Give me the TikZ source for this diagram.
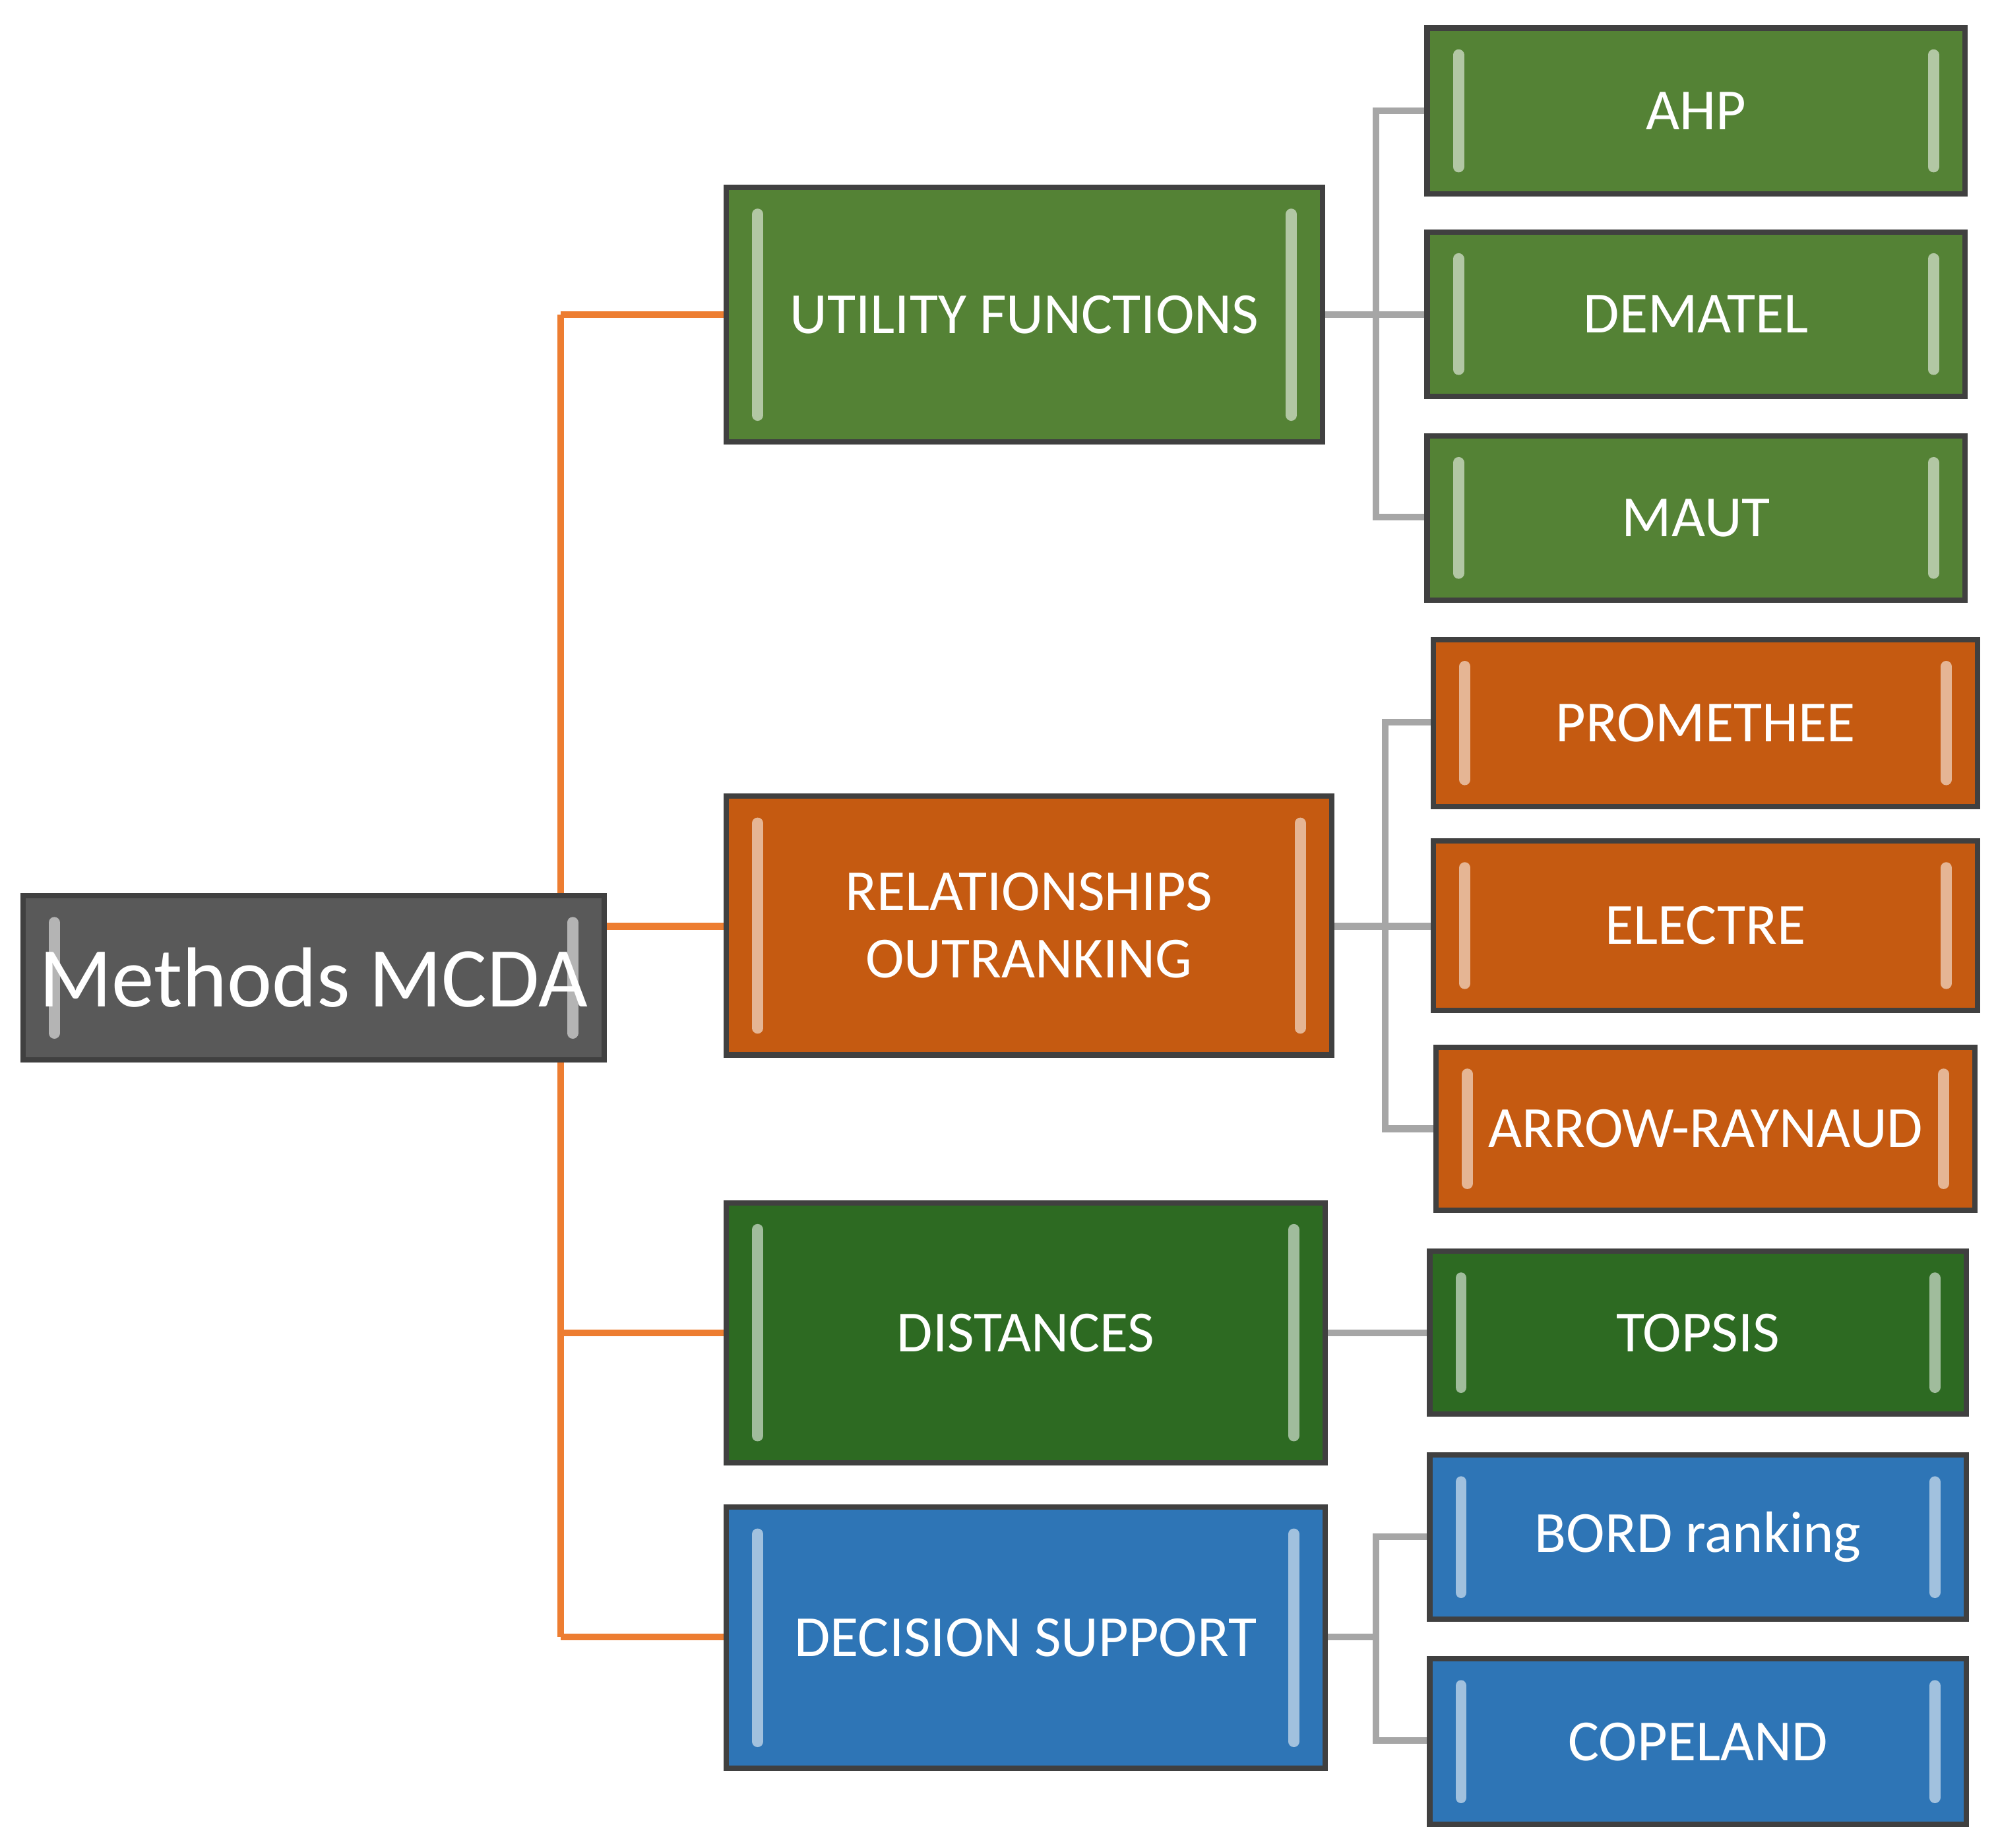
\documentclass[tikz,border=0pt]{standalone}
\usepackage{fontspec}
\setmainfont{Carlito}
\begin{document}
\definecolor{gA}{HTML}{548235}
\definecolor{gB}{HTML}{2D6A22}
\definecolor{oA}{HTML}{C55A11}
\definecolor{bA}{HTML}{2E75B6}
\definecolor{gR}{HTML}{595959}
\begin{tikzpicture}[x=0.01cm,y=-0.01cm,
 box/.style={draw=black!75,line width=1.2pt,text=white,font=\fontsize{13}{15}\selectfont,align=center,inner sep=0pt,
  path picture={\draw[#1!45!white,line width=2.5pt,line cap=round]
   ([xshift=7pt,yshift=-6pt]path picture bounding box.north west)--([xshift=7pt,yshift=6pt]path picture bounding box.south west)
   ([xshift=-7pt,yshift=-6pt]path picture bounding box.north east)--([xshift=-7pt,yshift=6pt]path picture bounding box.south east);},
  fill=#1},
 oc/.style={draw={rgb,255:red,237;green,125;blue,49},line width=1.5pt},
 gc/.style={draw=black!35,line width=1.5pt}]
\useasboundingbox (0,0) rectangle (1568,1450);
\newcommand\bx[7]{\node[box=#6,minimum width={(#4-#2)*0.01cm},minimum height={(#5-#3)*0.01cm}] (#1) at ({(#2+#4)/2},{(#3+#5)/2}) {#7};}
\draw[oc] (440,247)--(440,1285);
\draw[oc] (440,247)--(570,247);
\draw[oc] (474,727)--(570,727);
\draw[oc] (440,1046)--(570,1046);
\draw[oc] (440,1285)--(570,1285);
\draw[gc] (1038,247)--(1120,247); \draw[gc] (1120,87)--(1080,87)--(1080,406)--(1120,406);
\draw[gc] (1045,727)--(1125,727); \draw[gc] (1125,567)--(1087,567)--(1087,886)--(1127,886);
\draw[gc] (1040,1046)--(1122,1046);
\draw[gc] (1040,1285)--(1080,1285); \draw[gc] (1122,1206)--(1080,1206)--(1080,1366)--(1122,1366);
\bx{root}{18}{703}{474}{832}{gR}{\fontsize{19}{22}\selectfont Methods MCDA}
\bx{uf}{570}{147}{1038}{347}{gA}{UTILITY FUNCTIONS}
\bx{ro}{570}{625}{1045}{828}{oA}{RELATIONSHIPS\\OUTRANKING}
\bx{di}{570}{944}{1040}{1148}{gB}{DISTANCES}
\bx{ds}{570}{1183}{1040}{1388}{bA}{DECISION SUPPORT}
\bx{ahp}{1120}{22}{1542}{152}{gA}{AHP}
\bx{dem}{1120}{182}{1542}{311}{gA}{DEMATEL}
\bx{maut}{1120}{342}{1542}{471}{gA}{MAUT}
\bx{pro}{1125}{502}{1552}{633}{oA}{PROMETHEE}
\bx{ele}{1125}{660}{1552}{793}{oA}{ELECTRE}
\bx{arr}{1127}{822}{1550}{950}{oA}{ARROW-RAYNAUD}
\bx{top}{1122}{982}{1543}{1110}{gB}{TOPSIS}
\bx{bord}{1122}{1142}{1543}{1271}{bA}{BORD ranking}
\bx{cop}{1122}{1302}{1543}{1432}{bA}{COPELAND}
\end{tikzpicture}
\end{document}
